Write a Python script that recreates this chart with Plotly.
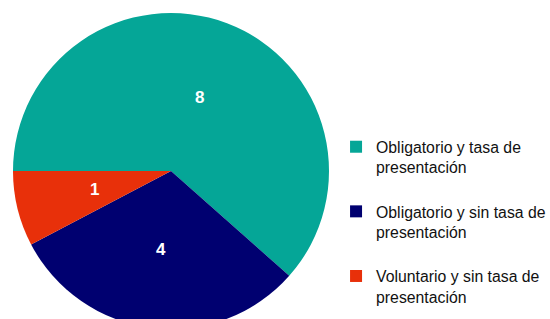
import math
import plotly.graph_objects as go

labels = ["Obligatorio y tasa de<br>presentación<br> ",
          "Obligatorio y sin tasa de<br>presentación<br> ",
          "Voluntario y sin tasa de<br>presentación"]
values = [8, 4, 1]
colors = ["#05A697", "#000070", "#E8300A"]

FONT = "Liberation Sans, Arial, sans-serif"

W, H = 550, 342
dom_x = [13 / W, 329 / W]
dom_y = [0, 1]

fig = go.Figure(go.Pie(
    labels=labels,
    values=values,
    sort=False,
    direction="clockwise",
    rotation=270,
    marker=dict(colors=colors, line=dict(width=0)),
    textinfo="none",
    hoverinfo="label+value",
    domain=dict(x=dom_x, y=dom_y),
))

# value labels placed at mid-angle, half radius (derived from the data)
plot_h = H - 13 - 13
cx = (dom_x[0] + dom_x[1]) / 2
cy = 0.5
rx = (dom_x[1] - dom_x[0]) / 2 * 0.5
ry = rx * W / plot_h
total = sum(values)
cum = 0
for v in values:
    mid = cum + v / 2
    cum += v
    theta = math.radians(270 + 360 * mid / total)  # clockwise from 12 o'clock
    fig.add_annotation(
        x=cx + rx * math.sin(theta), y=cy + ry * math.cos(theta),
        xref="paper", yref="paper", text=str(v), showarrow=False,
        xanchor="center", yanchor="middle",
        font=dict(family=FONT, size=17, color="white", weight="bold"),
    )

fig.update_layout(
    width=W, height=H,
    margin=dict(l=0, r=0, t=13, b=13, autoexpand=False),
    paper_bgcolor="white",
    plot_bgcolor="white",
    showlegend=True,
    legend=dict(
        xref="container", yref="container",
        x=0.611, y=0.62, xanchor="left", yanchor="top",
        valign="top",
        maxheight=400,
        font=dict(family=FONT, size=15.8, color="#111111"),
        itemclick=False,
    ),
    font=dict(family=FONT),
)

fig.write_html(
    "out.html",
    config={"displayModeBar": False},
    post_script="document.body.style.overflow='hidden';document.documentElement.style.overflow='hidden';document.body.style.margin='0';",
)
